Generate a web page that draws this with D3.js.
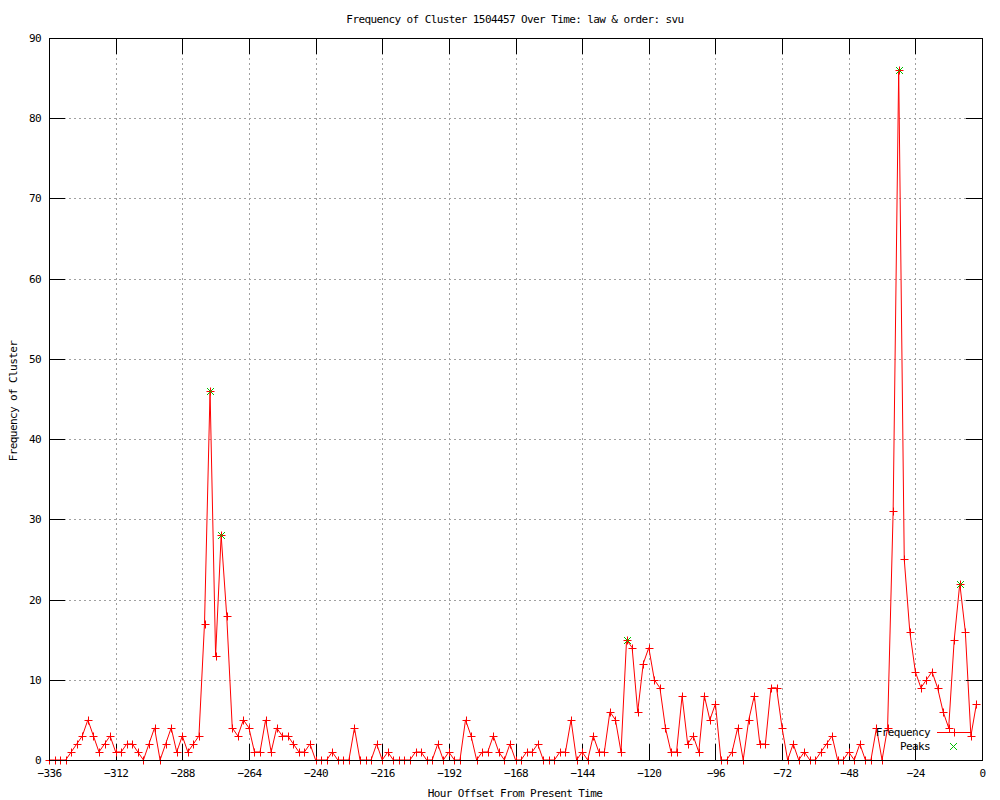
<!DOCTYPE html>
<html>
<head>
<meta charset="utf-8">
<script src="https://d3js.org/d3.v7.min.js"></script>
<style>
  html, body { margin: 0; padding: 0; background: #ffffff; }
  svg { display: block; }
  text { font-family: "DejaVu Sans Mono", "Liberation Mono", monospace; font-size: 11px; letter-spacing: -0.6px; fill: #000; }
</style>
</head>
<body>
<svg id="chart" width="1000" height="800"></svg>
<script>
// ---- data ----
const hours = [
  -336,-334,-332,-330,-328,-326,-324,-322,-320,-318,-316,-314,-312,-310,-308,-306,-304,-302,-300,-298,
  -296,-294,-292,-290,-288,-286,-284,-282,-280,-278,-276,-274,-272,-270,-268,-266,-264,-262,-260,-258,
  -256,-254,-252,-250,-248,-246,-244,-242,-240,-238,-236,-234,-232,-230,-228,-226,-224,-222,-220,-218,
  -216,-214,-212,-210,-208,-206,-204,-202,-200,-198,-196,-194,-192,-190,-188,-186,-184,-182,-180,-178,
  -176,-174,-172,-170,-168,-166,-164,-162,-160,-158,-156,-154,-152,-150,-148,-146,-144,-142,-140,-138,
  -136,-134,-132,-130,-128,-126,-124,-122,-120,-118,-116,-114,-112,-110,-108,-106,-104,-102,-100,-98,
  -96,-94,-92,-90,-88,-86,-84,-82,-80,-78,-76,-74,-72,-70,-68,-66,-64,-62,-60,-58,
  -56,-54,-52,-50,-48,-46,-44,-42,-40,-38,-36,-34,-32,-30,-28,-26,-24,-22,-20,-18,
  -16,-14,-12,-10,-8,-6,-4,-2
];
const frequency = [
  0,0,0,0,1,2,3,5,3,1,2,3,1,1,2,2,1,0,2,4,
  0,2,4,1,3,1,2,3,17,46,13,28,18,4,3,5,4,1,1,5,
  1,4,3,3,2,1,1,2,0,0,0,1,0,0,0,4,0,0,0,2,
  0,1,0,0,0,0,1,1,0,0,2,0,1,0,0,5,3,0,1,1,
  3,1,0,2,0,0,1,1,2,0,0,0,1,1,5,0,1,0,3,1,
  1,6,5,1,15,14,6,12,14,10,9,4,1,1,8,2,3,1,8,5,
  7,0,0,1,4,0,5,8,2,2,9,9,4,0,2,0,1,0,0,1,
  2,3,0,0,1,0,2,0,0,4,0,4,31,86,25,16,11,9,10,11,
  9,6,4,15,22,16,3,7
];
const peakHours  = [-278, -274, -128, -30, -8];
const peakValues = [46, 28, 15, 86, 22];

const xTicks = [-336,-312,-288,-264,-240,-216,-192,-168,-144,-120,-96,-72,-48,-24,0];
const yTicks = [0,10,20,30,40,50,60,70,80,90];

const titleText = "Frequency of Cluster 1504457 Over Time: law & order: svu";
const xLabelText = "Hour Offset From Present Time";
const yLabelText = "Frequency of Cluster";
const seriesNames = ["Frequency", "Peaks"];

// ---- layout ----
const svg = d3.select("#chart");
const pLeft = 49, pRight = 982, pTop = 38, pBottom = 760;
const tickLen = 16;
const redColor = "#ff0000", greenColor = "#00c000", gridColor = "#a0a0a0";

const x = d3.scaleLinear().domain([-336, 0]).range([pLeft, pRight]);
const y = d3.scaleLinear().domain([0, 90]).range([pBottom, pTop]);

// grid
const gGrid = svg.append("g");
gGrid.append("g").attr("transform", `translate(0,${pBottom})`)
  .call(d3.axisBottom(x).tickValues(xTicks.filter(t => t !== -336 && t !== 0)).tickSize(-(pBottom - pTop)).tickFormat(""))
  .call(g => g.select(".domain").remove());
gGrid.append("g").attr("transform", `translate(${pLeft},0)`)
  .call(d3.axisLeft(y).tickValues(yTicks.filter(t => t !== 0 && t !== 90)).tickSize(-(pRight - pLeft)).tickFormat(""))
  .call(g => g.select(".domain").remove());
gGrid.selectAll("line").attr("stroke", gridColor).attr("stroke-dasharray", "2,3").attr("shape-rendering", "crispEdges");

// data line
const data = hours.map((h, i) => ({h, v: frequency[i]}));
svg.append("path").datum(data)
  .attr("fill", "none").attr("stroke", redColor).attr("stroke-width", 1)
  .attr("d", d3.line().x(d => x(d.h)).y(d => y(d.v)));

// markers
const ps = 3.5;
function plus(sel, cx, cy, color) {
  const px = Math.round(cx) + 0.5, py = Math.round(cy) + 0.5;
  sel.append("path")
    .attr("d", `M${px - ps - 0.5},${py}H${px + ps + 0.5}M${px},${py - ps - 0.5}V${py + ps + 0.5}`)
    .attr("stroke", color).attr("stroke-width", 1).attr("fill", "none");
}
function cross(sel, cx, cy, color) {
  const px = Math.round(cx), py = Math.round(cy);
  const g = sel.append("g").attr("fill", color).attr("shape-rendering", "crispEdges");
  for (let k = -3; k <= 3; k++) {
    g.append("rect").attr("x", px + k).attr("y", py + k).attr("width", 1).attr("height", 1);
    g.append("rect").attr("x", px + k).attr("y", py - k).attr("width", 1).attr("height", 1);
  }
}

// axes ticks
const gAx = svg.append("g");
gAx.append("g").attr("transform", `translate(0,${pBottom})`)
  .call(d3.axisBottom(x).tickValues(xTicks).tickSizeInner(-tickLen).tickSizeOuter(0).tickPadding(9).tickFormat(d3.format("d")));
gAx.append("g").attr("transform", `translate(0,${pTop})`)
  .call(d3.axisTop(x).tickValues(xTicks).tickSizeInner(-tickLen).tickSizeOuter(0).tickFormat(""));
gAx.append("g").attr("transform", `translate(${pLeft},0)`)
  .call(d3.axisLeft(y).tickValues(yTicks).tickSizeInner(-tickLen).tickSizeOuter(0).tickPadding(8).tickFormat(d3.format("d")));
gAx.append("g").attr("transform", `translate(${pRight},0)`)
  .call(d3.axisRight(y).tickValues(yTicks).tickSizeInner(-tickLen).tickSizeOuter(0).tickFormat(""));
gAx.selectAll(".domain").remove();
gAx.selectAll("line").attr("stroke", "#000").attr("shape-rendering", "crispEdges");
gAx.selectAll("g").attr("font-family", null).attr("font-size", null);
gAx.selectAll("text").style("fill", "#000");

const gMarks = svg.append("g");
data.forEach(d => plus(gMarks, x(d.h), y(d.v), redColor));
peakHours.forEach((h, i) => cross(gMarks, x(h), y(peakValues[i]), greenColor));

svg.append("rect").attr("x", pLeft).attr("y", pTop)
  .attr("width", pRight - pLeft).attr("height", pBottom - pTop)
  .attr("fill", "none").attr("stroke", "#000").attr("stroke-width", 1)
  .attr("shape-rendering", "crispEdges");

// titles
svg.append("text").attr("x", 515).attr("y", 23).attr("text-anchor", "middle").text(titleText);
svg.append("text").attr("x", 515).attr("y", 797).attr("text-anchor", "middle").text(xLabelText);
svg.append("text").attr("transform", "translate(17,401) rotate(-90)").attr("text-anchor", "middle").text(yLabelText);

// legend
const lg = svg.append("g");
lg.append("text").attr("x", 930).attr("y", 736).attr("text-anchor", "end").text(seriesNames[0]);
lg.append("line").attr("x1", 937).attr("x2", 971).attr("y1", 732.5).attr("y2", 732.5)
  .attr("stroke", redColor);
plus(lg, 954, 732, redColor);
lg.append("text").attr("x", 930).attr("y", 750).attr("text-anchor", "end").text(seriesNames[1]);
cross(lg, 953, 746, greenColor);
</script>
</body>
</html>
